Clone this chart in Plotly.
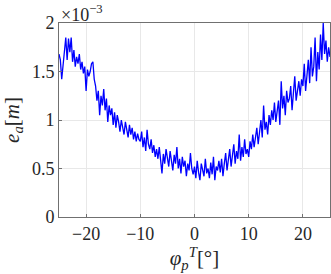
import numpy as np
import plotly.graph_objects as go


# angle grid [deg]
phi = np.round(np.arange(-25, 25.001, 0.25), 2)

# e_a in units of 1e-3 m
ea = [
    1.68, 1.62, 1.42, 1.55, 1.75, 1.85, 1.62, 1.84, 1.70, 1.85,
    1.60, 1.72, 1.55, 1.65, 1.58, 1.68, 1.52, 1.60, 1.48, 1.55,
    1.30, 1.52, 1.45, 1.50, 1.58, 1.60, 1.42, 1.35, 1.20, 1.30,
    1.05, 1.25, 1.15, 1.32, 1.10, 1.22, 0.98, 1.15, 1.05, 1.12,
    0.95, 1.08, 0.92, 1.05, 0.98, 0.88, 1.00, 0.92, 0.85, 0.98,
    0.90, 0.82, 0.95, 0.85, 0.92, 0.80, 0.88, 0.78, 0.86, 0.80,
    0.78, 0.88, 0.72, 0.82, 0.68, 0.90, 0.75, 0.70, 0.80, 0.66,
    0.74, 0.62, 0.70, 0.60, 0.72, 0.58, 0.45, 0.65, 0.55, 0.70,
    0.62, 0.52, 0.68, 0.58, 0.48, 0.64, 0.55, 0.72, 0.50, 0.60,
    0.45, 0.62, 0.52, 0.58, 0.42, 0.55, 0.48, 0.66, 0.50, 0.44,
    0.52, 0.40, 0.58, 0.46, 0.38, 0.55, 0.48, 0.42, 0.60, 0.45,
    0.50, 0.40, 0.56, 0.44, 0.62, 0.38, 0.52, 0.48, 0.58, 0.46,
    0.60, 0.42, 0.55, 0.66, 0.48, 0.58, 0.70, 0.52, 0.62, 0.75,
    0.55, 0.68, 0.60, 0.85, 0.58, 0.72, 0.62, 0.80, 0.65, 0.70,
    0.62, 0.78, 0.70, 0.85, 0.72, 0.80, 0.92, 0.75, 0.88, 1.00,
    0.82, 1.15, 0.90, 0.98, 0.85, 1.05, 0.95, 1.10, 1.00, 1.18,
    0.98, 1.08, 1.20, 0.95, 1.40, 1.12, 1.25, 1.05, 1.30, 1.18,
    1.22, 1.35, 1.10, 1.28, 1.45, 1.20, 1.32, 1.40, 1.25, 1.42,
    1.35, 1.58, 1.30, 1.48, 1.62, 1.38, 1.75, 1.45, 1.55, 1.85,
    1.40, 1.70, 1.52, 1.88, 1.62, 2.00, 1.68, 1.82, 1.60, 1.75,
    1.65,
]

x_ticks = [-20, -10, 0, 10, 20]
y_ticks = [0, 0.5, 1, 1.5, 2]
y_ticklabels = ['0', '0.5', '1', '1.5', '2']

font = 'Liberation Serif'
axis_col = '#707070'

fig = go.Figure()
fig.add_trace(go.Scatter(
    x=phi,
    y=ea,
    mode='lines',
    line=dict(color='#0000ff', width=1.3),
    showlegend=False
))

axis_common = dict(
    showline=True,
    linecolor=axis_col,
    linewidth=1,
    mirror=True,
    ticks='inside',
    ticklen=3,
    tickcolor=axis_col,
    showgrid=True,
    gridcolor='#e8e8e8',
    gridwidth=1,
    zeroline=False,
    tickfont=dict(family=font, size=18, color='#262626'),
)

fig.update_xaxes(
    range=[-25, 25],
    tickvals=x_ticks,
    title=dict(
        text='<i>φ</i><sub><i>p</i></sub><sup><i>T</i></sup>[°]',
        font=dict(family=font, size=21, color='#262626'),
        standoff=2
    ),
    **axis_common
)
fig.update_yaxes(
    range=[0, 2],
    tickvals=y_ticks,
    ticktext=y_ticklabels,
    title=dict(
        text='<i>e</i><sub><i>a</i></sub>[<i>m</i>]',
        font=dict(family=font, size=21, color='#262626'),
        standoff=6
    ),
    **axis_common
)

fig.add_annotation(
    x=0, y=1, xref='paper', yref='paper',
    xanchor='left', yanchor='bottom',
    text='×10<sup>−3</sup>',
    showarrow=False,
    yshift=-4,
    font=dict(family=font, size=18, color='#262626')
)

fig.update_layout(
    font=dict(family=font),
    width=331,
    height=274,
    margin=dict(l=59, r=1, t=23, b=57),
    plot_bgcolor='white',
    paper_bgcolor='white',
)

fig.write_html(
    'out.html',
    config={'displayModeBar': False},
    post_script="document.body.style.margin='0';"
)
